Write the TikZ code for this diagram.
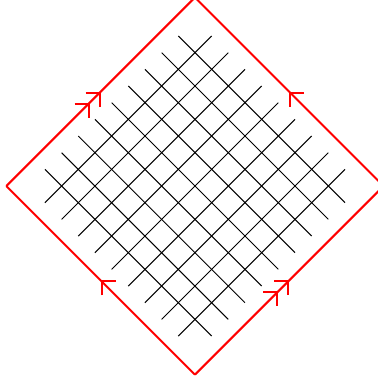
\documentclass[tikz,border=0pt]{standalone}
\usepackage{tikz}
\usetikzlibrary{arrows.meta,decorations.markings}

\tikzset{
  edge/.style={red,line width=1.2pt},
  lattice/.style={black,line width=0.6pt},
  onearrow/.style={postaction={decorate},decoration={markings,
    mark=at position 0.5 with {\arrow{Straight Barb[length=6pt,width=12pt]}}}},
  twoarrow/.style={postaction={decorate},decoration={markings,
    mark=at position 0.5 with {\arrow{Straight Barb[length=6pt,width=12pt,sep=2pt] Straight Barb[length=6pt,width=12pt]}}}}
}

\begin{document}
\begin{tikzpicture}[x=0.5cm,y=0.5cm]
\useasboundingbox (-8.27,-8.27) rectangle (7.76,7.89);
% square lattice, turned by 45 degrees
\begin{scope}[rotate=45]
\foreach \k in {-4,...,4} {
  \draw[lattice] (\k,-5) -- (\k,5);
  \draw[lattice] (-5,\k) -- (5,\k);
}
\end{scope}
% identified edges
\coordinate (L) at (-8,0);
\coordinate (T) at (0,8);
\coordinate (R) at (8,0);
\coordinate (B) at (0,-8);
\draw[edge,twoarrow] (L) -- (T);
\draw[edge,onearrow] (R) -- (T);
\draw[edge,onearrow] (B) -- (L);
\draw[edge,twoarrow] (B) -- (R);
\end{tikzpicture}
\end{document}
